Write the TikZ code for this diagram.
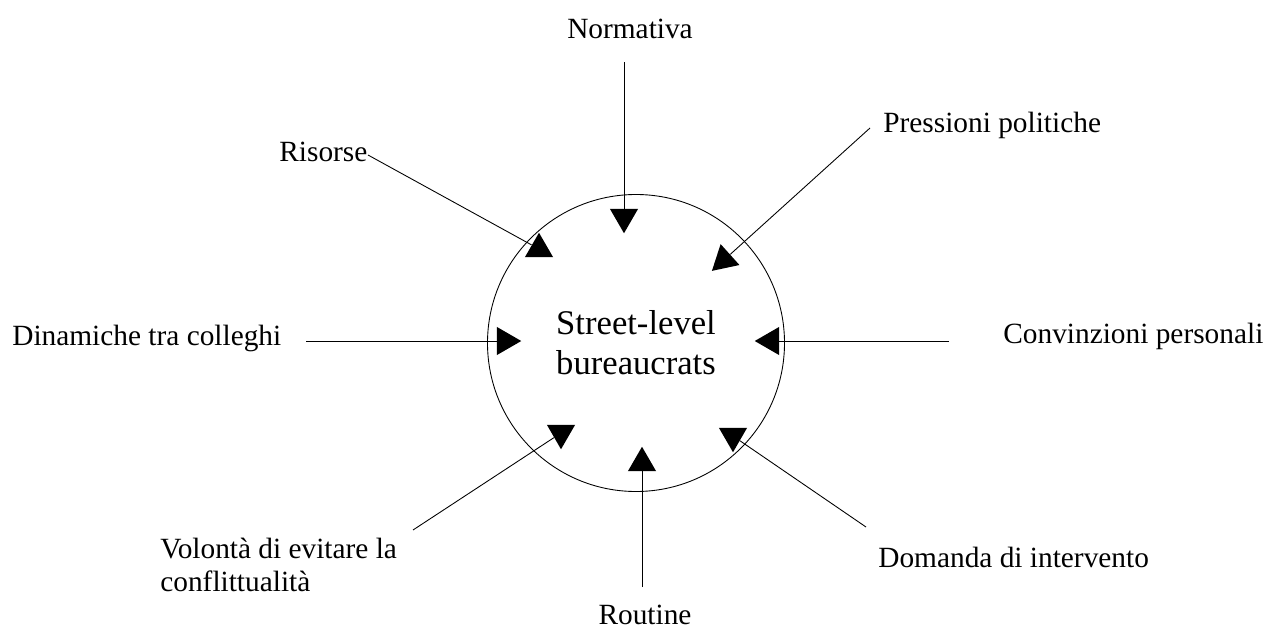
\documentclass[tikz,border=0pt]{standalone}
\usepackage{fontspec}
\setmainfont{Liberation Serif}
\usetikzlibrary{shapes.geometric}
\tikzset{edge/.style={line width=0.5pt}}
\tikzset{tri/.style={regular polygon,regular polygon sides=3,fill,inner sep=0pt,minimum size=6.5mm}}
\tikzset{lbl/.style={font=\fontsize{16.7}{18.5}\selectfont,inner sep=0pt}}

\begin{document}
\begin{tikzpicture}[x=0.2mm,y=-0.2mm]
    \useasboundingbox (0,0) rectangle (1276,630);
    \node[circle,draw,line width=0.5pt,minimum size=59.4mm,align=center,font=\fontsize{19.7}{22.8}\selectfont] (sb) at (636,343) {Street-level\\bureaucrats};
    \node[lbl,anchor=base] (norm) at (630,38) {Normativa};
    \node[lbl,anchor=base west] (pres) at (883,132) {Pressioni politiche};
    \node[lbl,anchor=base west] (ris) at (279,161) {Risorse};
    \node[lbl,anchor=base west] (din) at (12,345) {Dinamiche tra colleghi};
    \node[lbl,anchor=base west] (conv) at (1003,343) {Convinzioni personali};
    \node[lbl,anchor=base west,align=left] (vol) at (160,591) {Volontà di evitare la\\conflittualità};
    \node[lbl,anchor=base] (rout) at (645,624) {Routine};
    \node[lbl,anchor=base west] (dom) at (878,567) {Domanda di intervento};
    \coordinate (n0) at (624,62);
    \coordinate (p0) at (870,128);
    \coordinate (r0) at (368,155);
    \coordinate (d0) at (306,341);
    \coordinate (c0) at (949,341);
    \coordinate (v0) at (413,530);
    \coordinate (o0) at (642,587);
    \coordinate (m0) at (866,527);
    \node[tri,shape border rotate=180] (n1) at (624,217) {};
    \node[tri,shape border rotate=132] (p1) at (724,260) {};
    \node[tri] (r1) at (539,249) {};
    \node[tri,shape border rotate=-90] (d1) at (505,341) {};
    \node[tri,shape border rotate=90] (c1) at (771,341) {};
    \node[tri,shape border rotate=180] (v1) at (561,433) {};
    \node[tri] (o1) at (642,463) {};
    \node[tri,shape border rotate=180] (m1) at (733,436) {};
    \draw[edge] (n0) -- (n1);
    \draw[edge] (p0) -- (p1);
    \draw[edge] (r0) -- (r1);
    \draw[edge] (d0) -- (d1);
    \draw[edge] (c0) -- (c1);
    \draw[edge] (v0) -- (v1);
    \draw[edge] (o0) -- (o1);
    \draw[edge] (m0) -- (m1);
\end{tikzpicture}
\end{document}
